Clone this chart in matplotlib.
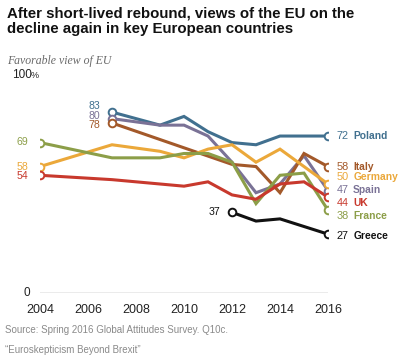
import matplotlib.pyplot as plt

# favorable view of the EU, %
poland_years = [2007, 2009, 2010, 2011, 2012, 2013, 2014, 2015, 2016]
poland = [83, 77, 81, 74, 69, 68, 72, 72, 72]

spain_years = [2007, 2009, 2010, 2011, 2012, 2013, 2014, 2015, 2016]
spain = [80, 77, 77, 72, 60, 46, 50, 63, 47]

italy_years = [2007, 2012, 2013, 2014, 2015, 2016]
italy = [78, 59, 58, 46, 64, 58]

germany_years = [2004, 2007, 2009, 2010, 2011, 2012, 2013, 2014, 2015, 2016]
germany = [58, 68, 65, 62, 66, 68, 60, 66, 58, 50]

france_years = [2004, 2007, 2009, 2010, 2011, 2012, 2013, 2014, 2015, 2016]
france = [69, 62, 62, 64, 64, 60, 41, 54, 55, 38]

uk_years = [2004, 2007, 2009, 2010, 2011, 2012, 2013, 2014, 2015, 2016]
uk = [54, 52, 50, 49, 51, 45, 43, 50, 51, 44]

greece_years = [2012, 2013, 2014, 2016]
greece = [37, 33, 34, 27]

# name, years, values, colour, y of end label, y of start label
series = [
    ("Poland", poland_years, poland, "#41708f", 72, 85.6),
    ("Spain", spain_years, spain, "#7a7296", 47.2, 81.4),
    ("Italy", italy_years, italy, "#a3592a", 58, 77.2),
    ("Germany", germany_years, germany, "#eba83a", 53.2, 58),
    ("France", france_years, france, "#8c9e48", 35.3, 69.3),
    ("UK", uk_years, uk, "#c8392d", 41.3, 53.7),
    ("Greece", greece_years, greece, "#111111", 26.1, 37),
]

plt.rcParams['font.family'] = ['Liberation Sans', 'DejaVu Sans']

fig = plt.figure(figsize=(4, 3.56), dpi=100)
ax = fig.add_axes([40 / 400, 63 / 356, 288 / 400, 218 / 356])
ax.set_xlim(2004, 2016)
ax.set_ylim(0, 100)

for name, yrs, vals, col, ly, sy in series:
    ax.plot(yrs, vals, color=col, lw=2.2, solid_capstyle='round',
            solid_joinstyle='miter', zorder=3)
    ax.plot([yrs[0], yrs[-1]], [vals[0], vals[-1]], 'o', ms=5.5, mfc='white',
            mec=col, mew=1.4, zorder=4)
    # end label
    ax.text(2016.35, ly, f"{vals[-1]}", color=col, fontsize=7.8, va='center',
            ha='left', clip_on=False)
    ax.text(2017.05, ly, name, color=col, fontsize=7.4, va='center',
            ha='left', fontweight='bold', clip_on=False)
    # start label
    ax.text(yrs[0] - 0.48, sy, f"{vals[0]}", color=col, fontsize=7.6,
            va='center', ha='right', clip_on=False)

ax.axhline(0, color='#9a9a9a', lw=1)
for s in ax.spines.values():
    s.set_visible(False)
ax.set_yticks([])
ax.set_xticks(range(2004, 2017, 2))
ax.tick_params(axis='x', length=0, pad=8, labelsize=9, labelcolor='#222222')

ax.text(2004 - 0.4, 0, "0", fontsize=8.5, ha='right', va='center',
        color='#222222', clip_on=False)
fig.text(12 / 400, 1 - 75 / 356, "100", fontsize=8.5, ha='left', va='center',
         color='#222222')
fig.text(31 / 400, 1 - 76 / 356, "%", fontsize=6.5, ha='left', va='center',
         color='#222222')

fig.text(7 / 400, 1 - 6 / 356,
         "After short-lived rebound, views of the EU on the\n"
         "decline again in key European countries",
         fontsize=10.8, fontweight='bold', ha='left', va='top',
         linespacing=1.15, color='#111111')
fig.text(7 / 400, 1 - 61 / 356, "Favorable view of EU",
         family='Liberation Serif', style='italic', fontsize=8.5,
         color='#6a6a6a', ha='left', va='center')
fig.text(5 / 400, 1 - 330 / 356,
         "Source: Spring 2016 Global Attitudes Survey. Q10c.",
         fontsize=7, color='#8a8a8a', ha='left', va='center')
fig.text(5 / 400, 1 - 350 / 356, "\u201cEuroskepticism Beyond Brexit\u201d",
         fontsize=7, color='#8a8a8a', ha='left', va='center')

fig.savefig("out.png", dpi=100, facecolor='white')
